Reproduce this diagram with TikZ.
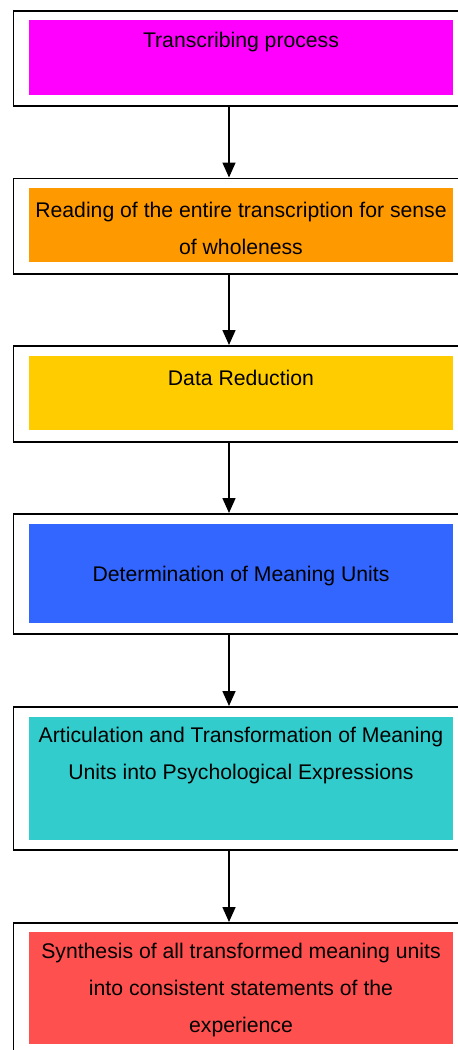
\documentclass[tikz,border=0pt]{standalone}
\usepackage{fontspec}
\setmainfont{Liberation Sans}
\usetikzlibrary{arrows.meta}
\definecolor{stepmagenta}{HTML}{FF00FF}
\definecolor{steporange}{HTML}{FF9900}
\definecolor{stepgold}{HTML}{FFCC00}
\definecolor{stepblue}{HTML}{3366FF}
\definecolor{stepteal}{HTML}{33CCCC}
\definecolor{stepred}{HTML}{FF5050}
\tikzset{
  outerbox/.style={draw=black, line width=1.6pt, inner sep=0pt, anchor=north west, minimum width=470pt},
  fillbox/.style={draw=none, inner sep=0pt, anchor=north west, minimum width=424pt},
  steptext/.style={inner sep=0pt, align=center, font=\fontsize{21.2}{37}\selectfont},
  flowarrow/.style={line width=1.6pt, -{Triangle[width=13pt,length=15pt]}}
}
\begin{document}
\begin{tikzpicture}[x=1pt,y=-1pt]
\useasboundingbox (0,0) rectangle (458,1050);
\clip (0,0) rectangle (458,1050);
\fill[white] (0,0) rectangle (458,1050);

% outer frames
\node[outerbox, minimum height=95pt]  (b1) at (12.5,10)  {};
\node[outerbox, minimum height=95.5pt](b2) at (12.5,177.5) {};
\node[outerbox, minimum height=96pt]  (b3) at (12.5,345) {};
\node[outerbox, minimum height=120pt] (b4) at (12.5,513) {};
\node[outerbox, minimum height=143pt] (b5) at (12.5,706) {};
\node[outerbox, minimum height=160pt] (b6) at (12.5,922) {};

% coloured panels
\node[fillbox, fill=stepmagenta, minimum height=75pt]  (f1) at (29,20)  {};
\node[fillbox, fill=steporange,  minimum height=74pt]  (f2) at (29,188) {};
\node[fillbox, fill=stepgold,    minimum height=74pt]  (f3) at (29,356) {};
\node[fillbox, fill=stepblue,    minimum height=99pt]  (f4) at (29,524) {};
\node[fillbox, fill=stepteal,    minimum height=123pt] (f5) at (29,717) {};
\node[fillbox, fill=stepred,     minimum height=112pt] (f6) at (29,932) {};

% labels
\node[steptext] (t1) at (241,42)    {Transcribing process};
\node[steptext] (t2) at (241,228.5) {Reading of the entire transcription for sense\\of wholeness};
\node[steptext] (t3) at (241,378)   {Data Reduction};
\node[steptext] (t4) at (241,576)   {Determination of Meaning Units};
\node[steptext] (t5) at (241,756)   {Articulation and Transformation of Meaning\\Units into Psychological Expressions};
\node[steptext] (t6) at (241,990.5) {Synthesis of all transformed meaning units\\into consistent statements of the\\experience};

% connectors
\coordinate (ax) at (229,0);
\draw[flowarrow] (b1.south -| ax) -- (b2.north -| ax);
\draw[flowarrow] (b2.south -| ax) -- (b3.north -| ax);
\draw[flowarrow] (b3.south -| ax) -- (b4.north -| ax);
\draw[flowarrow] (b4.south -| ax) -- (b5.north -| ax);
\draw[flowarrow] (b5.south -| ax) -- (b6.north -| ax);
\end{tikzpicture}
\end{document}
